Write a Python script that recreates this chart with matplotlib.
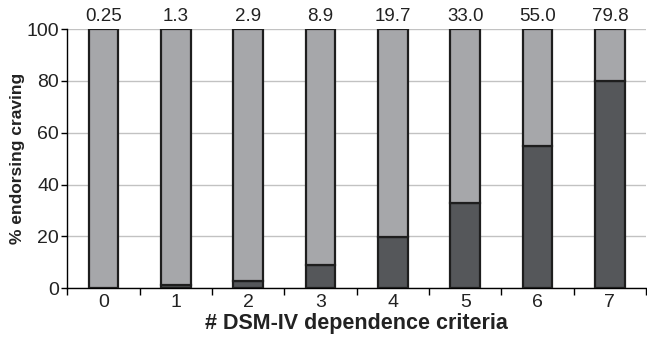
import numpy as np
import matplotlib.pyplot as plt

plt.rcParams['font.family'] = ['Liberation Sans', 'DejaVu Sans']

criteria = ['0', '1', '2', '3', '4', '5', '6', '7']
craving = [0.25, 1.3, 2.9, 8.9, 19.7, 33.0, 55.0, 79.8]
value_labels = ['0.25', '1.3', '2.9', '8.9', '19.7', '33.0', '55.0', '79.8']

x = np.arange(len(criteria))
rest = [100 - v for v in craving]

fig = plt.figure(figsize=(6.47, 3.39), dpi=100)
ax = fig.add_axes([0.1043, 0.150, 0.8943, 0.764])

ax.bar(x, craving, width=0.41, color='#55575a', edgecolor='#1e1e1e', linewidth=1.6, zorder=3)
ax.bar(x, rest, width=0.41, bottom=craving, color='#a6a7aa', edgecolor='#1e1e1e', linewidth=1.6, zorder=3)

for xi, lab in zip(x, value_labels):
    ax.text(xi, 101.5, lab, ha='center', va='bottom', fontsize=13.5, color='#222222')

ax.set_xlim(-0.5, 7.5)
ax.set_ylim(0, 100)
ax.set_yticks([0, 20, 40, 60, 80, 100])
ax.set_xticks(x)
ax.set_xticklabels(criteria)
ax.set_xticks(np.arange(-0.5, 8, 1), minor=True)
ax.tick_params(axis='x', which='major', length=0, labelsize=14, pad=4, labelcolor='#222222')
ax.tick_params(axis='x', which='minor', length=5, direction='out', width=1)
ax.tick_params(axis='y', labelsize=14, length=4, width=1, pad=2, labelcolor='#222222')

ax.yaxis.grid(True, color='#c2c2c2', linewidth=1, zorder=0)
ax.set_axisbelow(True)
for s in ['top', 'right']:
    ax.spines[s].set_visible(False)
ax.spines['left'].set_linewidth(1)
ax.spines['bottom'].set_linewidth(1)

ax.set_xlabel('# DSM-IV dependence criteria', fontsize=15.5, fontweight='bold',
              labelpad=2, color='#222222')
ax.set_ylabel('% endorsing craving', fontsize=12.5, fontweight='bold',
              labelpad=1, color='#222222')

fig.savefig('out.png', dpi=100)
